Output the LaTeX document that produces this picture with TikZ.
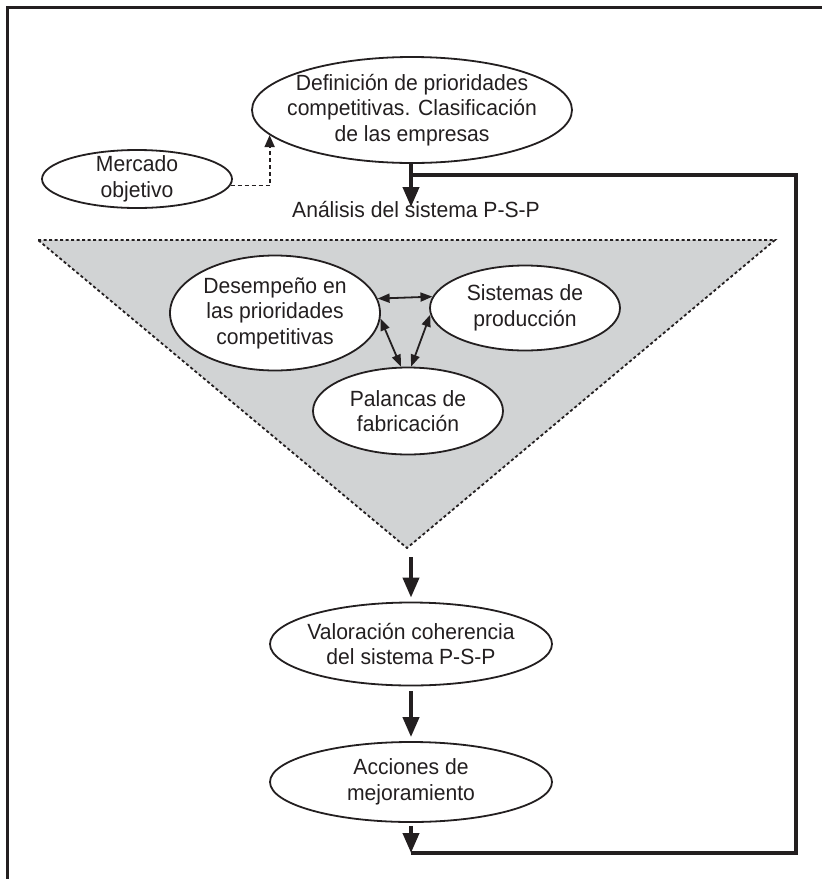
\documentclass[tikz,border=0pt]{standalone}
\usepackage{fontspec}
\setmainfont{Liberation Sans}[FakeStretch=0.96]
\usetikzlibrary{shapes.geometric,arrows.meta}
\definecolor{ink}{HTML}{231F20}
\definecolor{shade}{HTML}{D1D3D4}

\begin{document}
\begin{tikzpicture}[x=1pt,y=-1pt,color=ink,font=\fontsize{22}{25.5}\selectfont]
    \tikzstyle{oval node}=[ellipse,draw,line width=1.8pt,fill=white,inner xsep=-20pt,inner ysep=-5pt,align=center]
    \tikzstyle{big arrow}=[line width=4pt,-{Triangle[length=20pt,width=16pt]}]
    \tikzstyle{loop line}=[line width=4pt]
    \tikzstyle{small arrow}=[line width=1.8pt,{Triangle[length=12pt,width=9pt]}-{Triangle[length=12pt,width=9pt]}]
    \tikzstyle{dot arrow}=[line width=1.8pt,dash pattern=on 4pt off 3pt,-{Triangle[length=12pt,width=10pt]}]

    \useasboundingbox (0,0) rectangle (822,879);
    \draw[line width=3pt] (7,879) -- (7,7) -- (822,7);

    % shaded P-S-P triangle
    \coordinate (tl) at (38,240);
    \coordinate (tr) at (775,240);
    \coordinate (apex) at (407,548);
    \draw[fill=shade,line width=1.8pt,dash pattern=on 3pt off 2.5pt] (tl) -- (tr) -- (apex) -- cycle;

    \node[oval node,minimum width=320pt,minimum height=106pt] (defi) at (412,110) {Definición de prioridades\\competitivas. Clasificación\\de las empresas};
    \node[oval node,minimum width=190pt,minimum height=58pt] (merc) at (137,179) {Mercado\\objetivo};
    \node (psp) at (416,210) {Análisis del sistema P-S-P};

    \node[oval node,minimum width=210pt,minimum height=115pt] (desem) at (275,313) {Desempeño en\\las prioridades\\competitivas};
    \node[oval node,minimum width=190pt,minimum height=85pt] (sist) at (525,308) {Sistemas de\\producción};
    \node[oval node,minimum width=190pt,minimum height=87pt] (palan) at (408,411) {Palancas de\\fabricación};

    \node[oval node,minimum width=282pt,minimum height=83pt] (valor) at (411,644) {Valoración coherencia\\del sistema P-S-P};
    \node[oval node,minimum width=282pt,minimum height=80pt] (accion) at (411,782) {Acciones de\\mejoramiento};

    % feedback loop
    \coordinate (j1) at (411,175);
    \coordinate (jr) at (796,175);
    \coordinate (jb) at (796,853);
    \coordinate (j3) at (411,853);
    \coordinate (tip) at (411,207);

    \draw[dot arrow] (merc.-4) -| (defi.190);
    \draw[big arrow] (defi.south -| j1) -- (tip);
    \draw[loop line] (j1) -- (jr) -- (jb) -- (j3);

    \draw[small arrow] (desem.8) -- (sist.173);
    \draw[small arrow] (desem.-3) -- (palan.99);
    \draw[small arrow] (sist.184) -- (palan.86);

    \draw[big arrow,shorten <=9pt,shorten >=4pt] (valor.north |- apex) -- (valor.north);
    \draw[big arrow,shorten <=5pt,shorten >=4pt] (valor.south) -- (accion.north);
    \draw[big arrow,shorten <=3pt] (accion.south) -- (j3);
\end{tikzpicture}
\end{document}
